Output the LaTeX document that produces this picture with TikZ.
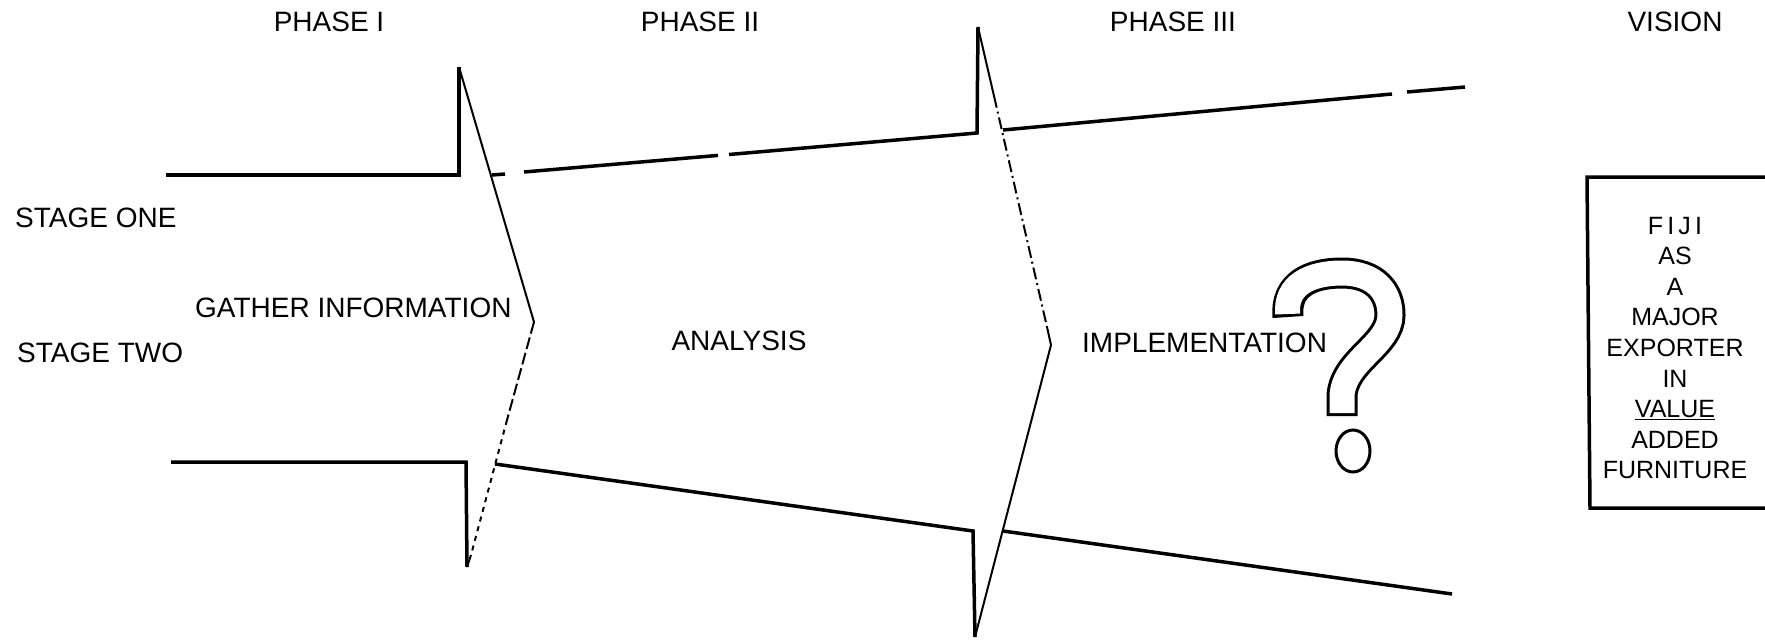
\documentclass[tikz,border=0pt]{standalone}
\usepackage{fontspec}
\setmainfont{Liberation Sans}
\begin{document}
\begin{tikzpicture}[x=1pt,y=-1pt,
  band/.style={line width=3.5pt, line join=miter},
  edge/.style={line width=2pt},
  lbl/.style={font=\fontsize{28}{30}\selectfont, inner sep=0pt},
  boxtext/.style={font=\fontsize{25}{30.6}\selectfont, inner sep=0pt, align=center},
]
\useasboundingbox[fill=white] (0,0) rectangle (1765,640);

% ---------- arrow 1 ----------
\coordinate (a1top) at (459,67);
\coordinate (a1tip) at (534,322);
\coordinate (a1bot) at (467,567);
\draw[band] (166,175) -- (459,175) -- (a1top);
\draw[edge] (a1top) -- (a1tip);
\draw[edge, dash pattern=on 12pt off 4pt] (a1tip) -- (507,420);
\draw[edge, dash pattern=on 5pt off 5pt] (507,420) -- (471,555);
\draw[edge] (471,555) -- (a1bot);
\draw[band] (a1bot) -- (466,462) -- (171,462);

% ---------- arrow 2 ----------
\coordinate (a2top) at (978,27);
\coordinate (a2tip) at (1051,345);
\coordinate (a2bot) at (975,637);
\draw[band] (492,175) -- (505,174);
\draw[band] (524,172) -- (718,155.4);
\draw[band] (729,154.5) -- (977,133) -- (a2top);
\draw[edge] (a2top) -- (994,96);
\draw[edge, dash pattern=on 12pt off 4pt on 2pt off 4pt] (994,96) -- (1047,327);
\draw[edge] (1047,327) -- (a2tip) -- (a2bot);
\draw[band] (a2bot) -- (973,531) -- (495,464);

% ---------- phase III band ----------
\draw[band] (1003,130) -- (1392,94);
\draw[band] (1407,92) -- (1465,87);
\draw[band] (1003,531) -- (1452,594);

% ---------- vision box ----------
\draw[band] (1765,177) -- (1587,177) -- (1590,508) -- (1765,508);

% ---------- question mark ----------
\draw[line width=31pt]
  (1288,317) .. controls (1285,285) and (1310,273) .. (1342,273)
  .. controls (1375,273) and (1390,292) .. (1390,315)
  .. controls (1390,345) and (1345,360) .. (1342,395) -- (1342,416);
\draw[line width=25pt, white, shorten <=3pt, shorten >=3pt]
  (1288,317) .. controls (1285,285) and (1310,273) .. (1342,273)
  .. controls (1375,273) and (1390,292) .. (1390,315)
  .. controls (1390,345) and (1345,360) .. (1342,395) -- (1342,416);
\draw[line width=3pt] (1353,451) ellipse [x radius=17, y radius=21];

% ---------- labels ----------
\node[lbl] (p1) at (329,22) {PHASE I};
\node[lbl] (p2) at (700,22) {PHASE II};
\node[lbl] (p3) at (1173,22) {PHASE III};
\node[lbl] (vis) at (1675,22) {VISION};
\node[lbl, anchor=west] (s1) at (15,218) {STAGE ONE};
\node[lbl, anchor=west] (s2) at (17,353) {STAGE TWO};
\node[lbl, anchor=west] (gi) at (195,308) {GATHER INFORMATION};
\node[lbl] (an) at (739,341) {ANALYSIS};
\node[lbl, anchor=west] (im) at (1082,343) {IMPLEMENTATION};
\node[boxtext] (vt) at (1675,348) {F\,I\,J\,I\\AS\\A\\MAJOR\\EXPORTER\\IN\\\underline{VALUE}\\ADDED\\FURNITURE};
\end{tikzpicture}
\end{document}
